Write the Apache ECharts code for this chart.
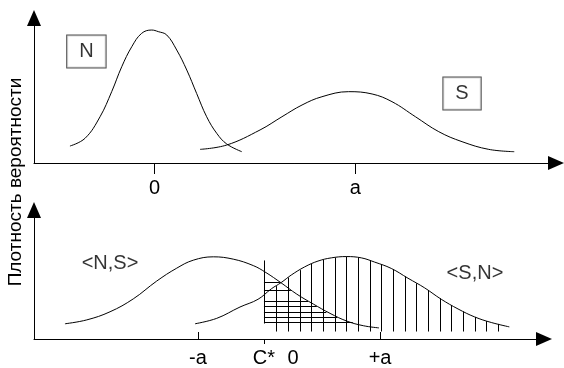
<!DOCTYPE html>
<html>
<head>
<meta charset="utf-8">
<script src="https://cdn.jsdelivr.net/npm/echarts@6/dist/echarts.min.js"></script>
<style>
  html, body { margin: 0; padding: 0; background: #fff; }
  #chart { width: 564px; height: 368px; }
</style>
</head>
<body>
<div id="chart"></div>
<script>
// ---- upper panel: noise N and signal S densities ----
const topTickValues = [0, 10];
const topTickText = ['0', 'a'];
const nCurve = [[-4.21, 11.7], [-3.46, 17.0], [-2.71, 31.9], [-2.13, 49.2], [-1.63, 66.4], [-1.13, 80.2],
  [-0.64, 89.4], [-0.14, 91.7], [0.19, 90.6], [0.61, 88.3], [1.11, 77.9], [1.61, 64.1], [2.10, 48.0],
  [2.60, 31.9], [3.10, 20.5], [3.60, 13.1], [4.35, 7.8]];
const sCurve = [[2.27, 9.4], [3.60, 12.4], [5.26, 22.8], [6.35, 31.9], [7.35, 40.0], [8.34, 45.7],
  [9.67, 49.2], [10.84, 47.6], [11.83, 42.3], [13.0, 31.9], [14.16, 21.6], [15.32, 14.7],
  [16.65, 9.4], [17.92, 7.8]];
const topBoxes = [{ value: [-3.39, 76.9], name: 'N' }, { value: [15.32, 47.9], name: 'S' }];

// ---- lower panel: decision densities with threshold C* ----
const cStar = -2.75;
const bottomTickValues = [-10, 10];
const bottomLabelValues = [-10, cStar, 0.45, 10];
const bottomLabelText = ['-a', 'C*', '0', '+a'];
const nsCurve = [[-24.60, 11.8], [-22.21, 14.8], [-19.65, 21.1], [-17.10, 31.1], [-14.53, 44.9],
  [-12.33, 54.9], [-10.51, 61.1], [-8.31, 63.7], [-6.12, 61.9], [-3.92, 56.9], [-2.53, 51.5],
  [-0.88, 43.6], [0.85, 34.8], [2.67, 27.1], [4.50, 19.9], [6.34, 13.9], [8.16, 10.3], [9.88, 8.6]];
const snCurve = [[-10.32, 11.8], [-7.94, 16.0], [-5.38, 24.8], [-3.40, 30.8], [-1.94, 38.9],
  [-0.85, 43.8], [0.25, 49.6], [1.72, 55.9], [3.18, 60.4], [4.65, 62.9], [6.29, 63.9], [7.94, 62.9],
  [9.41, 59.6], [11.23, 54.7], [13.07, 47.1], [14.90, 39.6], [16.72, 30.8], [18.56, 23.3],
  [20.39, 17.1], [22.21, 12.8], [24.19, 9.4]];
const curveNames = [{ value: [-19.65, 58.6], name: '<N,S>' }, { value: [20.42, 51.1], name: '<S,N>' }];

// vertical hatching under <S,N> to the right of C*
const vHatchX = [-1.39, -0.11, 1.18, 2.45, 3.73, 5.02, 6.29, 7.58, 8.86, 10.14, 11.42, 12.70,
  13.98, 15.26, 16.55, 17.82, 19.11, 20.39, 21.67, 22.95];
const vHatchTop = [41.0, 47.7, 53.4, 58.3, 61.3, 63.2, 63.9, 63.2, 60.9, 57.7, 54.1, 48.6,
  43.2, 37.9, 31.6, 26.3, 21.4, 17.1, 13.9, 11.7];
const vHatchBase = 5.8;
// threshold marker through the hatched area
const cStarLine = [12.0, 60.9];
// horizontal hatching under <N,S> to the right of C*
const hHatchY = [44.1, 37.8, 29.5, 25.3, 21.3, 17.0, 12.8];
const hHatchEnd = [-1.0, 0.2, 2.1, 3.05, 4.1, 5.3, 7.0];

const FONT = '"Liberation Sans", Arial, sans-serif';
const INK = '#000';

const segments = [];
vHatchX.forEach((x, i) => segments.push([x, vHatchBase, x, vHatchTop[i]]));
segments.push([cStar, cStarLine[0], cStar, cStarLine[1]]);
hHatchY.forEach((y, i) => segments.push([cStar, y, hHatchEnd[i], y]));

function arrowLine() {
  return { show: true, onZero: false, symbol: ['none', 'triangle'], symbolSize: [14, 16],
    lineStyle: { color: INK, width: 1 } };
}

function curve(data, xi) {
  return { type: 'line', xAxisIndex: xi, yAxisIndex: xi, data: data, smooth: 0.4,
    showSymbol: false, silent: true, lineStyle: { color: INK, width: 1 }, z: 3 };
}

function textMarks(data, xi, boxed) {
  return { type: 'scatter', xAxisIndex: xi, yAxisIndex: xi, data: data, symbolSize: 0, silent: true,
    label: Object.assign({ show: true, position: 'inside', formatter: '{b}', color: INK,
      fontFamily: FONT, fontSize: 20, lineHeight: 20 },
      boxed ? { borderColor: '#222', borderWidth: 1, padding: [6, 12], backgroundColor: '#fff' } : {}) };
}

const chart = echarts.init(document.getElementById('chart'), null, { renderer: 'canvas' });
chart.setOption({
  animation: false,
  backgroundColor: '#fff',
  grid: [
    { left: 34, top: 18, width: 522, height: 145 },
    { left: 34, top: 210, width: 510, height: 133 }
  ],
  xAxis: [
    { gridIndex: 0, type: 'value', min: -6, max: 20, axisLine: arrowLine(), splitLine: { show: false },
      axisTick: { show: true, customValues: topTickValues, length: 11, lineStyle: { color: INK } },
      axisLabel: { show: true, customValues: topTickValues, margin: 15, color: INK, fontFamily: FONT, fontSize: 20,
        formatter: v => topTickText[topTickValues.indexOf(v)] } },
    { gridIndex: 1, type: 'value', min: -28, max: 28, axisLine: arrowLine(), splitLine: { show: false },
      axisTick: { show: true, customValues: bottomTickValues, inside: true, length: 7, lineStyle: { color: INK } },
      axisLabel: { show: true, customValues: bottomLabelValues, margin: 9, color: INK, fontFamily: FONT, fontSize: 20,
        formatter: v => bottomLabelText[bottomLabelValues.indexOf(v)] } },
    { gridIndex: 1, type: 'value', min: -28, max: 28, position: 'bottom', splitLine: { show: false },
      axisLine: { show: false, onZero: false },
      axisTick: { show: true, customValues: [cStar], length: 5, lineStyle: { color: INK } },
      axisLabel: { show: false } }
  ],
  yAxis: [
    { gridIndex: 0, type: 'value', min: 0, max: 100, axisLine: arrowLine(), axisTick: { show: false },
      axisLabel: { show: false }, splitLine: { show: false } },
    { gridIndex: 1, type: 'value', min: 0, max: 100, axisLine: arrowLine(), axisTick: { show: false },
      axisLabel: { show: false }, splitLine: { show: false } }
  ],
  graphic: [{
    type: 'text', x: 16, y: 182, rotation: Math.PI / 2,
    style: { text: 'Плотность вероятности', font: '19px ' + FONT, fill: INK, align: 'center', verticalAlign: 'middle' }
  }],
  series: [
    {
      type: 'custom', xAxisIndex: 1, yAxisIndex: 1, data: segments, silent: true, clip: false, z: 2,
      renderItem: (params, api) => {
        const p1 = api.coord([api.value(0), api.value(1)]);
        const p2 = api.coord([api.value(2), api.value(3)]);
        let x1 = p1[0], y1 = p1[1], x2 = p2[0], y2 = p2[1];
        if (Math.abs(x1 - x2) < 0.01) { x1 = x2 = Math.round(x1) + 0.5; }
        if (Math.abs(y1 - y2) < 0.01) { y1 = y2 = Math.round(y1) + 0.5; }
        return { type: 'line', shape: { x1, y1, x2, y2 }, style: { stroke: INK, lineWidth: 1 } };
      }
    },
    curve(nCurve, 0),
    curve(sCurve, 0),
    curve(nsCurve, 1),
    curve(snCurve, 1),
    textMarks(topBoxes, 0, true),
    textMarks(curveNames, 1, false)
  ]
});
</script>
</body>
</html>
